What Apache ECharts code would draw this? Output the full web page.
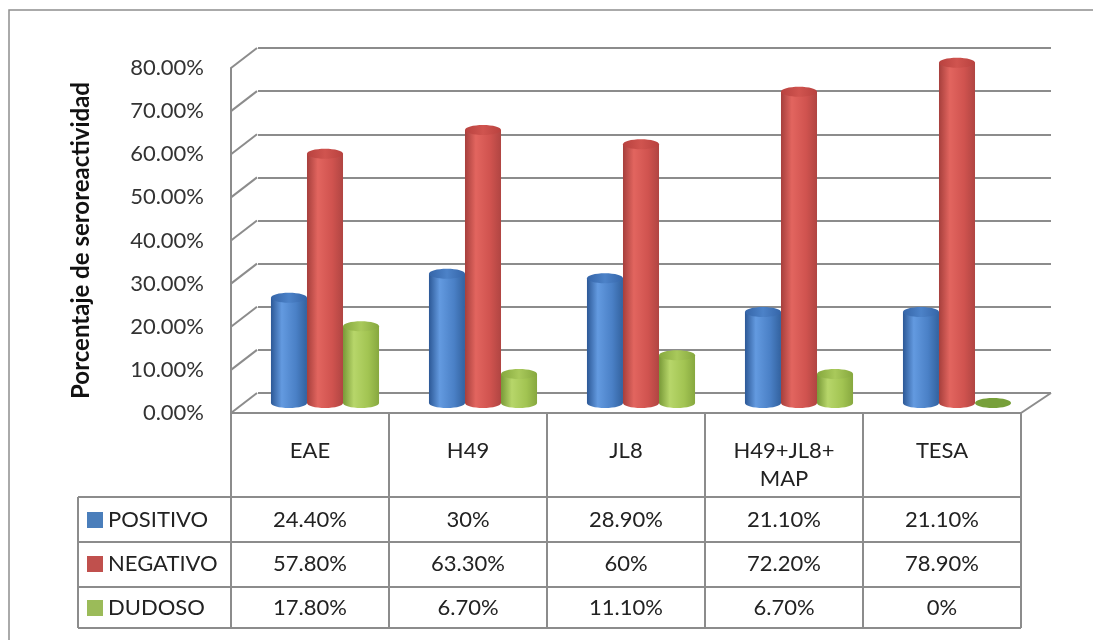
<!DOCTYPE html>
<html>
<head>
<meta charset="utf-8">
<script src="https://cdn.jsdelivr.net/npm/echarts@6/dist/echarts.min.js"></script>
<style>
  html, body { margin: 0; padding: 0; background: #ffffff; }
  #chart { width: 1093px; height: 640px; }
</style>
</head>
<body>
<div id="chart"></div>
<script>
// Categories (x axis) and the three result groups, in percent
const categories = ['EAE', 'H49', 'JL8', 'H49+JL8+\nMAP', 'TESA'];
const seriesNames = ['POSITIVO', 'NEGATIVO', 'DUDOSO'];
const positivo = [24.4, 30, 28.9, 21.1, 21.1];
const negativo = [57.8, 63.3, 60, 72.2, 78.9];
const dudoso = [17.8, 6.7, 11.1, 6.7, 0];
const yTicks = [0, 10, 20, 30, 40, 50, 60, 70, 80];
const yTitle = 'Porcentaje de seroreactividad';

const seriesValues = [positivo, negativo, dudoso];

// Cylinder shading per group
const palette = [
  { legend: '#4a7ebb', edge: '#2c5896', light: '#639ae0', mid: '#4a80c6', dark: '#33629f', top: ['#3565a8', '#4c82c8'] },
  { legend: '#c0504d', edge: '#a63f3c', light: '#e2655f', mid: '#d0534f', dark: '#b04542', top: ['#b8423f', '#d0544f'] },
  { legend: '#9bbb59', edge: '#789937', light: '#b7d66a', mid: '#a2c452', dark: '#87a83f', top: ['#86a83e', '#a9c95b'] }
];

const FONT = 'Lato, "Open Sans", sans-serif';
const LINE = '#8c8c8c';
// depth of the 3D box: bars stand halfway back, the wall sits at full depth
const MID_DX = 15, MID_DY = -10;
const BACK_DX = 26, BACK_DY = -20;
// table rows below the plot
const ROW_Y = [520, 564, 608];
const TABLE_LEFT = 78, TABLE_RIGHT = 1021;
const ROW_LINES = [497, 542, 587, 628];

function fmtCell(v) {
  return Number.isInteger(v) ? v + '%' : v.toFixed(2) + '%';
}

function cylinderItem(k) {
  return function (params, api) {
    const i = api.value(0);
    const v = api.value(1);
    const base = api.coord([i, 0]);
    const top = api.coord([i, v]);
    const band = api.size([1, 0])[0];
    const w = band * 0.228;
    const rx = w / 2, ry = 5;
    const cx = base[0] + (k - 1) * w + MID_DX;
    const yb = base[1] + MID_DY;
    const yt = top[1] + MID_DY;
    const p = palette[k];
    const bodyFill = new echarts.graphic.LinearGradient(0, 0, 1, 0, [
      { offset: 0, color: p.edge },
      { offset: 0.3, color: p.light },
      { offset: 0.7, color: p.mid },
      { offset: 1, color: p.dark }
    ]);
    const topFill = new echarts.graphic.LinearGradient(0, 0, 1, 0, [
      { offset: 0, color: p.top[0] },
      { offset: 0.5, color: p.top[1] },
      { offset: 1, color: p.top[0] }
    ]);
    const children = [];
    if (yb - yt > 0.5) {
      children.push({ type: 'ellipse', shape: { cx: cx, cy: yb, rx: rx, ry: ry }, style: { fill: bodyFill } });
      children.push({ type: 'rect', shape: { x: cx - rx, y: yt, width: w, height: yb - yt }, style: { fill: bodyFill } });
    }
    children.push({ type: 'ellipse', shape: { cx: cx, cy: yt, rx: rx, ry: ry }, style: { fill: yb - yt > 0.5 ? topFill : '#77a03a' } });
    // value cell of the data table
    children.push({
      type: 'text',
      style: {
        x: base[0], y: ROW_Y[k], text: fmtCell(v),
        align: 'center', verticalAlign: 'middle',
        font: '22px ' + FONT, fill: '#222'
      }
    });
    return { type: 'group', children: children };
  };
}

// side wall diagonals and the right floor edge
function depthLines(params, api) {
  const v = api.value(0);
  const band = api.size([1, 0])[0];
  const p = api.coord([0, v]);
  const x0 = p[0] - band / 2;
  const children = [{
    type: 'line',
    shape: { x1: x0, y1: p[1], x2: x0 + BACK_DX, y2: p[1] + BACK_DY },
    style: { stroke: LINE, lineWidth: 2 }
  }];
  if (v === 0) {
    const q = api.coord([categories.length - 1, 0]);
    const x1 = q[0] + band / 2;
    children.push({
      type: 'line',
      shape: { x1: x1, y1: q[1], x2: x1 + 30, y2: q[1] + BACK_DY },
      style: { stroke: LINE, lineWidth: 2 }
    });
  }
  return { type: 'group', children: children };
}

const series = [{
  type: 'custom',
  xAxisIndex: 0, yAxisIndex: 0,
  renderItem: depthLines,
  data: yTicks.map(v => [v]),
  encode: { y: 0 },
  silent: true,
  z: 1
}];
seriesValues.forEach((vals, k) => {
  series.push({
    type: 'custom',
    name: seriesNames[k],
    xAxisIndex: 0, yAxisIndex: 0,
    renderItem: cylinderItem(k),
    data: vals.map((v, i) => [i, v]),
    encode: { x: 0, y: 1 },
    z: 3 + k
  });
});

// table frame and legend column
const graphics = [{
  type: 'rect', silent: true, z: -10,
  shape: { x: 9, y: 10, width: 1100, height: 650 },
  style: { fill: 'none', stroke: '#8f8f8f', lineWidth: 1.5 }
}];
ROW_LINES.forEach(y => {
  graphics.push({
    type: 'line', silent: true,
    shape: { x1: TABLE_LEFT, y1: y, x2: TABLE_RIGHT, y2: y },
    style: { stroke: LINE, lineWidth: 2 }
  });
});
graphics.push({
  type: 'line', silent: true,
  shape: { x1: TABLE_LEFT, y1: ROW_LINES[0], x2: TABLE_LEFT, y2: ROW_LINES[ROW_LINES.length - 1] },
  style: { stroke: LINE, lineWidth: 2 }
});
seriesNames.forEach((name, k) => {
  graphics.push({
    type: 'rect', silent: true,
    shape: { x: 87, y: ROW_Y[k] - 8, width: 16, height: 16 },
    style: { fill: palette[k].legend }
  });
  graphics.push({
    type: 'text', silent: true,
    style: { x: 108, y: ROW_Y[k], text: name, verticalAlign: 'middle', font: '22px ' + FONT, fill: '#222' }
  });
});

const option = {
  backgroundColor: '#ffffff',
  animation: false,
  grid: [
    { left: 231, right: 72, top: 68, bottom: 227 },
    { left: 258, right: 42, top: 48, bottom: 247 }
  ],
  xAxis: [{
    type: 'category', gridIndex: 0, data: categories,
    axisLine: { lineStyle: { color: LINE, width: 2 } },
    axisTick: { show: true, interval: 0, length: 215, lineStyle: { color: LINE, width: 2 } },
    axisLabel: { interval: 0, margin: 24, fontSize: 22, lineHeight: 28, fontFamily: FONT, color: '#222' }
  }, {
    type: 'category', gridIndex: 1, data: categories, show: false
  }],
  yAxis: [{
    type: 'value', gridIndex: 0, min: 0, max: 80, interval: 10,
    name: yTitle, nameLocation: 'middle', nameRotate: 90, nameGap: 138,
    nameTextStyle: { fontSize: 24, fontWeight: 'bold', fontFamily: FONT, color: '#111' },
    axisLine: { show: true, lineStyle: { color: LINE, width: 2 } },
    axisTick: { show: false },
    splitLine: { show: false },
    axisLabel: { margin: 27, fontSize: 22, fontFamily: FONT, color: '#333', padding: [5, 0, 0, 0], formatter: v => v.toFixed(2) + '%' }
  }, {
    type: 'value', gridIndex: 1, min: 0, max: 80, interval: 10,
    axisLine: { show: false }, axisTick: { show: false }, axisLabel: { show: false },
    splitLine: { show: true, lineStyle: { color: LINE, width: 2 } }
  }],
  graphic: graphics,
  series: series
};

const chart = echarts.init(document.getElementById('chart'), null, { renderer: 'canvas' });
chart.setOption(option);
</script>
</body>
</html>
